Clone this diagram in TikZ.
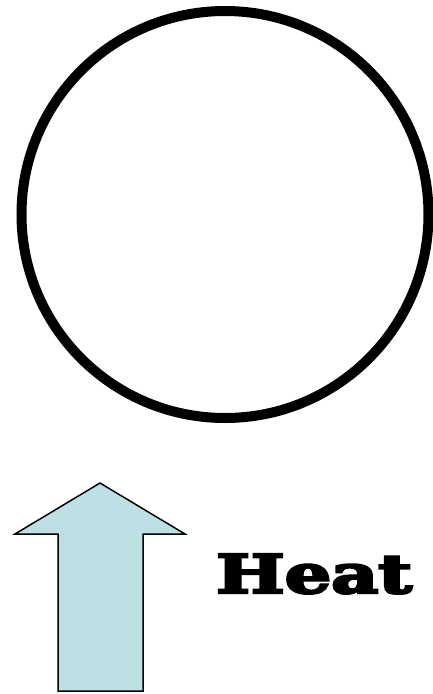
\documentclass[tikz,border=0pt]{standalone}
\usepackage{fontspec}
\usepackage{graphicx}
\newfontfamily\heatfont[FakeBold=4.5]{DejaVu Serif}
\definecolor{arrowfill}{RGB}{189,224,228}
\tikzset{
  ring/.style={draw=black, line width=10pt},
  uparrow/.style={draw=black, line width=1.5pt, fill=arrowfill, line join=miter},
  heatlabel/.style={anchor=base west, inner sep=0pt, outer sep=0pt}
}
\begin{document}
\begin{tikzpicture}[x=1pt, y=-1pt]
\useasboundingbox (0,0) rectangle (433,694);
\node[circle, ring, minimum size=407pt, inner sep=0pt] (ring) at (225,214.5) {};
\draw[uparrow] (100,483) coordinate (tip) -- (185,534) -- (143,534) -- (143,691) -- (58,691) -- (58,534) -- (15,534) -- cycle;
\node[heatlabel] (heat) at (216,593) {\resizebox{196pt}{39pt}{\heatfont\bfseries Heat}};
\end{tikzpicture}
\end{document}
